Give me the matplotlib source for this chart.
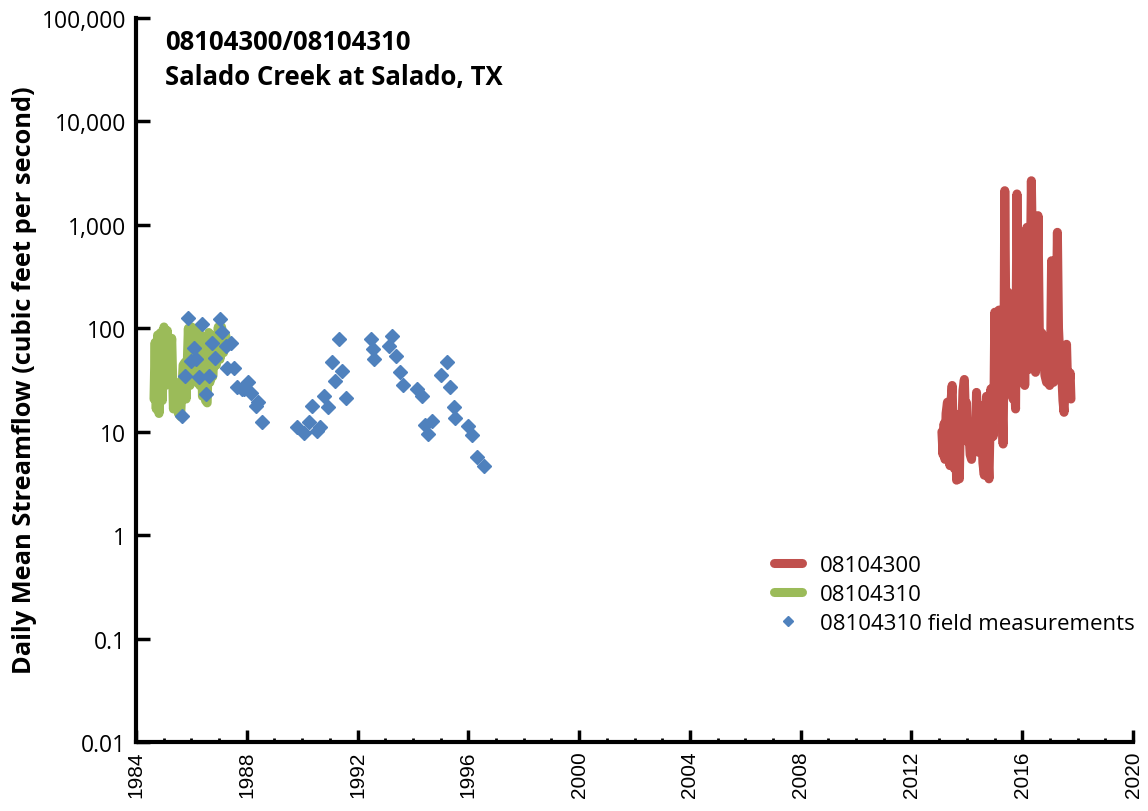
import numpy as np
import matplotlib
matplotlib.use('Agg')
import matplotlib.pyplot as plt

# 08104310 daily mean streamflow (decimal year, cfs)
green_yr = [1984.65, 1984.69, 1984.73, 1984.78, 1984.83, 1984.89, 1984.95, 1985.01,
            1985.07, 1985.13, 1985.21, 1985.29, 1985.35, 1985.43, 1985.53, 1985.61,
            1985.70, 1985.77, 1985.81, 1985.89, 1985.95, 1986.01, 1986.07, 1986.13,
            1986.19, 1986.25, 1986.30, 1986.35, 1986.40, 1986.45, 1986.51, 1986.57,
            1986.63, 1986.67, 1986.71, 1986.77, 1986.85, 1986.90, 1986.97, 1987.03,
            1987.09, 1987.16, 1987.24, 1987.27]
green_q = [20.7, 73, 16.6, 86, 15, 91, 20, 103,
           28, 95, 34, 80, 16.6, 30, 15, 14,
           44, 47, 20.7, 100, 28, 103, 34, 91,
           30, 100, 28, 86, 22, 63, 20, 19,
           91, 30, 86, 34, 68, 44, 103, 50,
           103, 58, 86, 68]

# 08104300 daily mean streamflow
red_yr = [2013.10, 2013.14, 2013.18, 2013.21, 2013.25, 2013.30, 2013.34, 2013.39,
          2013.43, 2013.47, 2013.51, 2013.55, 2013.59, 2013.63, 2013.68, 2013.73,
          2013.77, 2013.81, 2013.86, 2013.91, 2013.95, 2013.99, 2014.03, 2014.07,
          2014.12, 2014.17, 2014.22, 2014.27, 2014.31, 2014.35, 2014.40, 2014.44,
          2014.48, 2014.53, 2014.58, 2014.63, 2014.67, 2014.71, 2014.76, 2014.80,
          2014.84, 2014.87, 2014.91, 2014.95, 2014.98, 2015.01, 2015.05, 2015.09,
          2015.12, 2015.16, 2015.20, 2015.23, 2015.27, 2015.31, 2015.34, 2015.37,
          2015.41, 2015.45, 2015.49, 2015.53, 2015.57, 2015.62, 2015.67, 2015.72,
          2015.76, 2015.81, 2015.85, 2015.88, 2015.92, 2015.95, 2015.99, 2016.02,
          2016.06, 2016.09, 2016.13, 2016.17, 2016.20, 2016.24, 2016.29, 2016.33,
          2016.37, 2016.41, 2016.44, 2016.48, 2016.53, 2016.57, 2016.62, 2016.67,
          2016.71, 2016.76, 2016.82, 2016.88, 2016.93, 2016.99, 2017.03, 2017.06,
          2017.10, 2017.13, 2017.17, 2017.20, 2017.24, 2017.27, 2017.31, 2017.35,
          2017.38, 2017.42, 2017.47, 2017.51, 2017.55, 2017.60, 2017.63, 2017.66,
          2017.70, 2017.73, 2017.76]
red_q = [10, 6, 12, 5.4, 15, 19.3, 7, 4.7,
         20, 28, 9, 4.4, 12, 3.4, 8, 3.5,
         15, 9, 25, 32, 14, 19, 8, 10.6,
         6, 5.4, 9, 12.4, 7, 24, 10, 6.3,
         18, 14.3, 5, 3.8, 10, 22, 6, 3.5,
         12, 26, 15, 9, 20, 143, 30, 19,
         60, 150, 80, 40, 20, 7.6, 50, 2140,
         100, 40, 223, 70, 40, 25, 20.7, 30,
         16.6, 1990, 120, 40, 200, 585, 60, 30,
         80, 28, 150, 946, 100, 40, 300, 2670,
         500, 178, 60, 37.5, 200, 1228, 80, 43,
         90, 63, 35, 30, 45, 28, 80, 450,
         60, 30, 40, 47, 200, 847, 100, 58,
         45, 40, 20, 15.4, 30, 70, 35, 22,
         30, 37, 20.7]

# 08104310 field measurements
field_yr = [1985.67, 1985.77, 1985.89, 1985.97, 1986.09, 1986.15, 1986.27, 1986.39,
            1986.51, 1986.63, 1986.75, 1986.85, 1987.03, 1987.10, 1987.26, 1987.29,
            1987.44, 1987.54, 1987.63, 1987.83, 1987.90, 1988.04, 1988.17, 1988.32,
            1988.41, 1988.56, 1989.82, 1990.06, 1990.24, 1990.36, 1990.54, 1990.66,
            1990.78, 1990.94, 1991.06, 1991.18, 1991.32, 1991.44, 1991.60, 1992.47,
            1992.55, 1992.61, 1993.13, 1993.25, 1993.40, 1993.52, 1993.64, 1994.15,
            1994.33, 1994.43, 1994.54, 1994.69, 1995.03, 1995.23, 1995.35, 1995.47,
            1995.53, 1995.99, 1996.13, 1996.31, 1996.55]
field_q = [14.3, 34.8, 125, 48.6, 64, 51, 34, 110,
           23, 34.8, 72, 52, 122, 93, 68, 41,
           72, 41, 27, 25.7, 26, 30, 23.7, 17.9,
           19.2, 12.3, 11.0, 9.7, 12.3, 17.9, 10.2, 11.2,
           22, 17.2, 47, 31, 78, 39, 21, 78,
           63, 51, 68, 84, 54, 38, 28, 25.9,
           22, 11.6, 9.5, 12.8, 35, 47, 27, 17.2,
           13.6, 11.3, 9.2, 5.7, 4.7]

ytick_vals = [0.01, 0.1, 1, 10, 100, 1000, 10000, 100000]
ytick_txt = ['0.01', '0.1', '1', '10', '100', '1,000', '10,000', '100,000']
xtick_vals = list(range(1984, 2021, 4))

plt.rcParams['font.family'] = ['Open Sans', 'DejaVu Sans']

fig = plt.figure(figsize=(11.48, 8.12), dpi=100)
ax = fig.add_axes([136 / 1148, 69 / 812, (1133 - 136) / 1148, (743 - 19) / 812])

ax.plot(red_yr, red_q, color='#C0504D', lw=6.5, solid_joinstyle='round',
        solid_capstyle='round', label='08104300')
ax.plot(green_yr, green_q, color='#9BBB59', lw=6.5, solid_joinstyle='round',
        solid_capstyle='round', label='08104310')
ax.plot(field_yr, field_q, ls='none', marker='D', ms=7.5, color='#4F81BD',
        label='08104310 field measurements')

ax.set_yscale('log')
ax.set_ylim(0.01, 100000)
ax.set_xlim(1984, 2020)
ax.set_yticks(ytick_vals)
ax.set_yticklabels(ytick_txt)
ax.yaxis.set_minor_locator(matplotlib.ticker.NullLocator())
ax.set_xticks(xtick_vals)
ax.set_xticks(range(1984, 2021), minor=True)
ax.set_xticklabels([str(v) for v in xtick_vals], rotation=90,
                   family='Liberation Sans', fontsize=15)

for s in ['top', 'right']:
    ax.spines[s].set_visible(False)
for s in ['left', 'bottom']:
    ax.spines[s].set_linewidth(3)

ax.tick_params(axis='y', which='major', direction='in', length=10, width=2.5,
               labelsize=16.5, pad=7)
ax.tick_params(axis='x', which='major', direction='in', length=9, width=2.5, pad=6)
ax.tick_params(axis='x', which='minor', direction='in', length=3, width=2)

# title block and y label
fig.text(165 / 1148, 1 - 43 / 812, '08104300/08104310', fontsize=18.5,
         fontweight='bold', va='center', ha='left')
fig.text(165 / 1148, 1 - 77 / 812, 'Salado Creek at Salado, TX', fontsize=18.5,
         fontweight='bold', va='center', ha='left')
fig.text(25 / 1148, 1 - 380 / 812, 'Daily Mean Streamflow (cubic feet per second)',
         fontsize=18.3, fontweight='bold', rotation=90, va='center', ha='center')

ax.legend(loc='upper left', bbox_to_anchor=(754 / 1148, 1 - 536 / 812),
          bbox_transform=fig.transFigure, frameon=False, fontsize=16,
          handlelength=1.25, handletextpad=0.8, labelspacing=0.35, markerscale=0.65)

fig.savefig('out.png', dpi=100)
